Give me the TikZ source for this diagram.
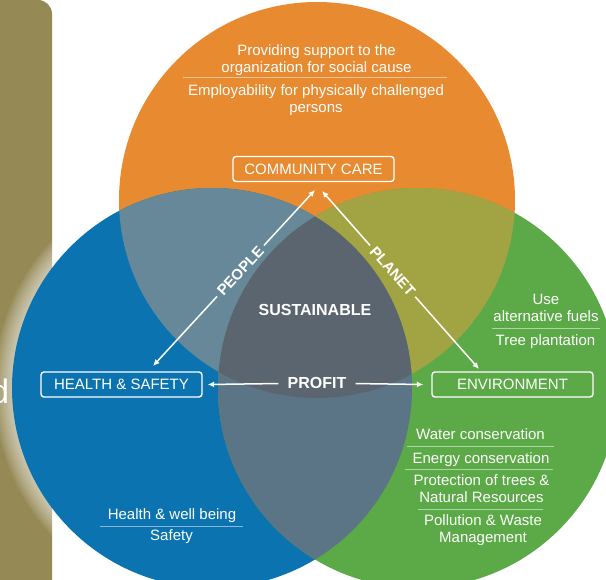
\documentclass[tikz,border=0pt]{standalone}
\usepackage{fontspec}
\setmainfont{Liberation Sans}
\usetikzlibrary{arrows.meta,positioning}
\definecolor{strip}{HTML}{958A56}
\definecolor{care}{HTML}{E88A30}
\definecolor{health}{HTML}{0B74B0}
\definecolor{env}{HTML}{5BA947}
\definecolor{carehealth}{HTML}{668899}
\definecolor{careenv}{HTML}{A2A443}
\definecolor{healthenv}{HTML}{5B7486}
\definecolor{core}{HTML}{5A6570}

\begin{document}
\begin{tikzpicture}[x=1pt,y=-1pt,
  txt/.style={text=white,font=\fontsize{15}{17}\selectfont,align=center,inner sep=0pt},
  lbl/.style={text=white,font=\fontsize{15}{17}\selectfont\bfseries,inner sep=4pt},
  box/.style={draw=white,line width=1.4pt,rounded corners=3pt,minimum width=161pt,minimum height=25pt,inner sep=0pt,text=white,font=\fontsize{15}{17}\selectfont},
  arr/.style={white,line width=1.5pt,-{Latex[length=6.5pt,width=6pt]}},
  sep/.style={white,opacity=0.5,line width=1pt}]
  \useasboundingbox (0,0) rectangle (606,580);

  % side strip, cut off
  \fill[strip,rounded corners=14pt] (-20,0) rectangle (52,600);
  \begin{scope}
    \clip (0,0) rectangle (52,580);
    \node[text=white,font=\fontsize{34}{34}\selectfont,inner sep=0pt,anchor=base east] (cut) at (9.5,404) {d};
  \end{scope}

  % three circles
  \coordinate (O) at (317,200);
  \coordinate (B) at (212,388);
  \coordinate (G) at (418,388);
  \foreach \i in {1,...,12}
    \draw[white,opacity=0.06,line width=\i*3pt] (B) circle (200pt);
  \fill[care] (O) circle (198pt);
  \fill[health] (B) circle (200pt);
  \fill[env] (G) circle (200pt);
  \begin{scope}
    \clip (O) circle (198pt);
    \fill[carehealth] (B) circle (200pt);
    \fill[careenv] (G) circle (200pt);
  \end{scope}
  \begin{scope}
    \clip (B) circle (200pt);
    \fill[healthenv] (G) circle (200pt);
    \clip (O) circle (198pt);
    \fill[core] (G) circle (200pt);
  \end{scope}

  % community care
  \node[txt] (support) at (316.5,59.7) {Providing support to the\\organization for social cause};
  \draw[sep] (183,78) -- (447,78);
  \node[txt] (employ) at (316,99.7) {Employability for physically challenged\\persons};
  \node[box] (care) at (313.5,169) {COMMUNITY CARE};

  % health & safety
  \node[box] (health) at (121.5,384.5) {HEALTH \& SAFETY};
  \node[txt] (wellbeing) at (172,515.2) {Health \& well being};
  \draw[sep] (100,526) -- (243,526);
  \node[txt] (safety) at (171.5,536.2) {Safety};

  % environment
  \node[box] (env) at (512.5,384.5) {ENVIRONMENT};
  \node[txt] (fuels) at (546,308) {Use\\alternative fuels};
  \draw[sep] (492,329) -- (600,329);
  \node[txt] (trees) at (545.5,341.2) {Tree plantation};
  \node[txt] (water) at (480.5,434.6) {Water conservation};
  \draw[sep] (407,447) -- (554,447);
  \node[txt] (energy) at (481,459.2) {Energy conservation};
  \draw[sep] (405,470) -- (553,470);
  \node[txt] (protect) at (481.5,489) {Protection of trees \&\\Natural Resources};
  \draw[sep] (418,509) -- (543,509);
  \node[txt] (waste) at (483,529.7) {Pollution \& Waste\\Management};

  % centre and links
  \node[lbl,font=\fontsize{16}{18}\selectfont\bfseries] (sust) at (315,310) {SUSTAINABLE};
  \node[lbl,font=\fontsize{16}{18}\selectfont\bfseries,inner xsep=9pt] (profit) at (317,383) {PROFIT};
  \draw[arr] (profit) -- ([xshift=5pt]health.east);
  \draw[arr] (profit) -- ([xshift=-8pt]env.west);

  \coordinate (pplTop) at (315,190);
  \coordinate (pplBot) at (153,366);
  \path (pplBot) -- (pplTop) node[lbl,sloped,pos=0.54] (people) {PEOPLE};
  \draw[arr] (people) -- (pplTop);
  \draw[arr] (people) -- (pplBot);

  \coordinate (plnTop) at (322,191);
  \coordinate (plnBot) at (479,369);
  \path (plnTop) -- (plnBot) node[lbl,sloped,pos=0.45] (planet) {PLANET};
  \draw[arr] (planet) -- (plnTop);
  \draw[arr] (planet) -- (plnBot);
\end{tikzpicture}
\end{document}
